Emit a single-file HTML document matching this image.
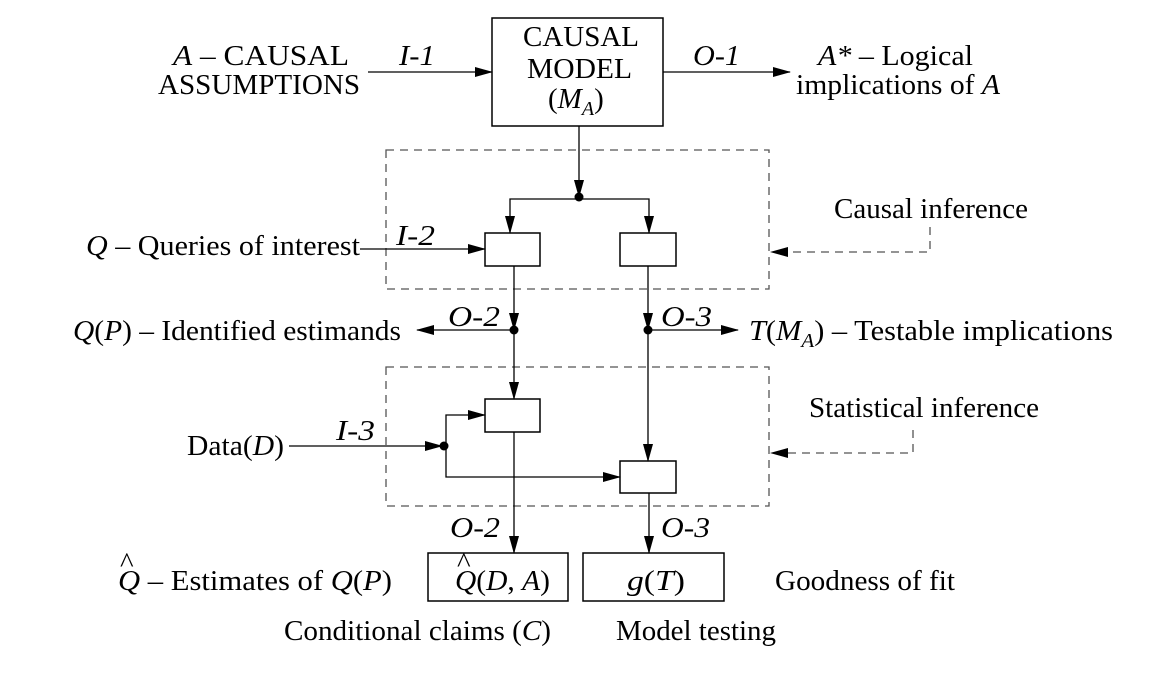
<!DOCTYPE html>
<html><head><meta charset="utf-8"><style>
html,body{margin:0;padding:0;background:#fff;}
svg text{font-family:"Liberation Serif",serif;font-size:29px;fill:#000;}
.i{font-style:italic;}
</style></head><body>
<svg width="1170" height="674" viewBox="0 0 1170 674" xmlns="http://www.w3.org/2000/svg">
<defs>
<marker id="a" markerWidth="18" markerHeight="10" refX="17" refY="5" orient="auto" markerUnits="userSpaceOnUse">
<path d="M0,0 L18,5 L0,10 Z" fill="#000"/></marker>
</defs>
<g stroke="#000" stroke-width="1.5" fill="none">
<rect x="492" y="18" width="171" height="108"/>
<rect x="485" y="233" width="55" height="33"/>
<rect x="620" y="233" width="56" height="33"/>
<rect x="485" y="399" width="55" height="33"/>
<rect x="620" y="461" width="56" height="32"/>
<rect x="428" y="553" width="140" height="48"/>
<rect x="583" y="553" width="141" height="48"/>
</g>
<g stroke="#555" stroke-width="1.3" fill="none" stroke-dasharray="8,6">
<rect x="386" y="150" width="383" height="139"/>
<rect x="386" y="367" width="383" height="139"/>
<path d="M930 227 V252 H785"/>
<path d="M913 430 V453 H785"/>
</g>
<g fill="#000">
<path d="M770 252 L788 247 L788 257 Z"/>
<path d="M770 453 L788 448 L788 458 Z"/>
<circle cx="579" cy="197" r="4.5"/>
<circle cx="514" cy="330" r="4.5"/>
<circle cx="648" cy="330" r="4.5"/>
<circle cx="444" cy="446" r="4.5"/>
</g>
<g stroke="#000" stroke-width="1.3" fill="none">
<path d="M368 72 H492" marker-end="url(#a)"/>
<path d="M663 72 H790" marker-end="url(#a)"/>
<path d="M579 126 V197" marker-end="url(#a)"/>
<path d="M579 199 H510 V233" marker-end="url(#a)"/>
<path d="M579 199 H649 V233" marker-end="url(#a)"/>
<path d="M360 249 H485" marker-end="url(#a)"/>
<path d="M514 266 V330" marker-end="url(#a)"/>
<path d="M648 266 V330" marker-end="url(#a)"/>
<path d="M514 330 H417" marker-end="url(#a)"/>
<path d="M648 330 H738" marker-end="url(#a)"/>
<path d="M514 330 V399" marker-end="url(#a)"/>
<path d="M648 330 V461" marker-end="url(#a)"/>
<path d="M289 446 H442" marker-end="url(#a)"/>
<path d="M446 446 V415 H485" marker-end="url(#a)"/>
<path d="M446 446 V477 H620" marker-end="url(#a)"/>
<path d="M514 432 V553" marker-end="url(#a)"/>
<path d="M649 493 V553" marker-end="url(#a)"/>
</g>
<text x="173" y="65" textLength="176" lengthAdjust="spacingAndGlyphs"><tspan class="i">A</tspan> –  CAUSAL</text>
<text x="158" y="94" textLength="202" lengthAdjust="spacingAndGlyphs">ASSUMPTIONS</text>
<text x="399" y="65" class="i" textLength="36" lengthAdjust="spacingAndGlyphs">I-1</text>
<text x="523" y="46" textLength="116" lengthAdjust="spacingAndGlyphs">CAUSAL</text>
<text x="527" y="78" textLength="105" lengthAdjust="spacingAndGlyphs">MODEL</text>
<text x="548" y="108">(<tspan class="i">M</tspan><tspan class="i" font-size="20" dy="7">A</tspan><tspan dy="-7">)</tspan></text>
<text x="693" y="65" class="i" textLength="47" lengthAdjust="spacingAndGlyphs">O-1</text>
<text x="818" y="65" textLength="155" lengthAdjust="spacingAndGlyphs"><tspan class="i">A*</tspan> – Logical</text>
<text x="796" y="94" textLength="204" lengthAdjust="spacingAndGlyphs">implications of <tspan class="i">A</tspan></text>
<text x="86" y="255" textLength="274" lengthAdjust="spacingAndGlyphs"><tspan class="i">Q</tspan> –  Queries of interest</text>
<text x="396" y="245" class="i" textLength="39" lengthAdjust="spacingAndGlyphs">I-2</text>
<text x="834" y="218" textLength="194" lengthAdjust="spacingAndGlyphs">Causal inference</text>
<text x="73" y="340" textLength="328" lengthAdjust="spacingAndGlyphs"><tspan class="i">Q</tspan>(<tspan class="i">P</tspan>) – Identified estimands</text>
<text x="448" y="326" class="i" textLength="52" lengthAdjust="spacingAndGlyphs">O-2</text>
<text x="661" y="326" class="i" textLength="51" lengthAdjust="spacingAndGlyphs">O-3</text>
<text x="749" y="340" textLength="364" lengthAdjust="spacingAndGlyphs"><tspan class="i">T</tspan>(<tspan class="i">M</tspan><tspan class="i" font-size="20" dy="7">A</tspan><tspan dy="-7">) – Testable implications</tspan></text>
<text x="809" y="417" textLength="230" lengthAdjust="spacingAndGlyphs">Statistical inference</text>
<text x="187" y="455" textLength="97" lengthAdjust="spacingAndGlyphs">Data(<tspan class="i">D</tspan>)</text>
<text x="336" y="440" class="i" textLength="39" lengthAdjust="spacingAndGlyphs">I-3</text>
<text x="450" y="537" class="i" textLength="50" lengthAdjust="spacingAndGlyphs">O-2</text>
<text x="661" y="537" class="i" textLength="49" lengthAdjust="spacingAndGlyphs">O-3</text>
<text x="118" y="590" textLength="274" lengthAdjust="spacingAndGlyphs"><tspan class="i">Q</tspan> – Estimates of  <tspan class="i">Q</tspan>(<tspan class="i">P</tspan>)</text>
<text x="120" y="572" font-size="22">^</text>
<text x="455" y="590" textLength="95" lengthAdjust="spacingAndGlyphs"><tspan class="i">Q</tspan>(<tspan class="i">D</tspan>, <tspan class="i">A</tspan>)</text>
<text x="457" y="572" font-size="22">^</text>
<text x="627" y="590" textLength="58" lengthAdjust="spacingAndGlyphs"><tspan class="i">g</tspan>(<tspan class="i">T</tspan>)</text>
<text x="775" y="590" textLength="180" lengthAdjust="spacingAndGlyphs">Goodness of fit</text>
<text x="284" y="640" textLength="267" lengthAdjust="spacingAndGlyphs">Conditional claims (<tspan class="i">C</tspan>)</text>
<text x="616" y="640" textLength="160" lengthAdjust="spacingAndGlyphs">Model testing</text>
</svg>
</body></html>
